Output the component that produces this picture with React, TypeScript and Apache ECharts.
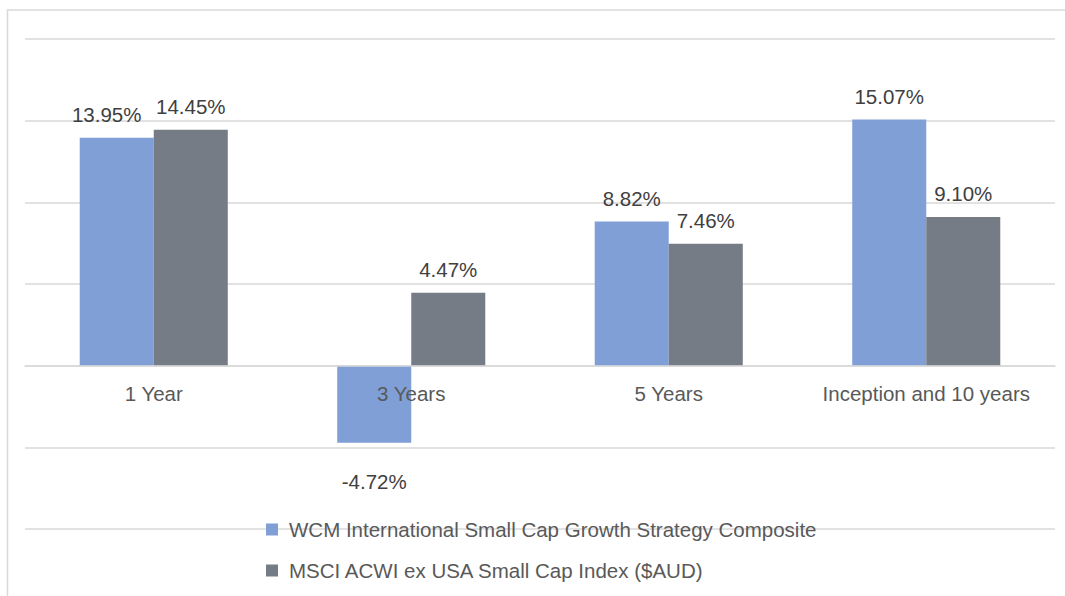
import React, { useEffect, useRef } from "react";
import * as echarts from "echarts";

const categories = ["1 Year", "3 Years", "5 Years", "Inception and 10 years"];
const wcmValues = [13.95, -4.72, 8.82, 15.07];
const msciValues = [14.45, 4.47, 7.46, 9.1];
const seriesNames = [
  "WCM International Small Cap Growth Strategy Composite",
  "MSCI ACWI ex USA Small Cap Index ($AUD)",
];
const yTicks = [-10, -5, 0, 5, 10, 15, 20];

const FONT = "'Liberation Sans', Arial, sans-serif";
const FS = 20.5;
const BLUE = "#809fd7";
const GREY = "#767c86";

function makeData(values: number[], firstOffset: number) {
  return values.map((v, i) => {
    const item: any = { value: v };
    const label: any = {};
    if (v < 0) {
      label.position = "bottom";
      label.distance = 28;
    }
    if (i === 0 && firstOffset) label.offset = [firstOffset, 0];
    if (Object.keys(label).length) item.label = label;
    return item;
  });
}

export default function App() {
  const ref = useRef<HTMLDivElement>(null);
  useEffect(() => {
    if (!ref.current) return;
    const chart = echarts.init(ref.current, undefined, { renderer: "svg" });
    const labelStyle = {
      show: true,
      position: "top",
      distance: 13,
      color: "#404040",
      fontSize: FS,
      fontFamily: FONT,
      formatter: (p: any) => Number(p.value).toFixed(2) + "%",
    };
    chart.setOption({
      animation: false,
      backgroundColor: "#ffffff",
      graphic: [
        {
          type: "rect",
          z: -10,
          shape: { x: 7.5, y: 10, width: 1300, height: 900 },
          style: { fill: "none", stroke: "#d9d9d9", lineWidth: 1.5 },
        },
      ],
      grid: { left: 25, right: 10, top: 39, bottom: 67, containLabel: false },
      legend: {
        orient: "vertical",
        left: 261,
        top: 514,
        itemWidth: 12,
        itemHeight: 12,
        itemGap: 20,
        icon: "rect",
        textStyle: {
          color: "#595959",
          fontSize: FS,
          fontFamily: FONT,
          padding: [0, 0, 0, 6],
        },
        data: seriesNames,
      },
      xAxis: {
        type: "category",
        data: categories,
        z: 5,
        axisLine: { onZero: true, lineStyle: { color: "#d9d9d9", width: 1.5 } },
        axisTick: { show: false },
        axisLabel: {
          color: "#595959",
          fontSize: FS,
          fontFamily: FONT,
          interval: 0,
          margin: -146,
        },
      },
      yAxis: {
        type: "value",
        min: yTicks[0],
        max: yTicks[yTicks.length - 1],
        interval: 5,
        axisLabel: { show: false },
        axisLine: { show: false },
        axisTick: { show: false },
        splitLine: { lineStyle: { color: "#d9d9d9", width: 1.5 } },
      },
      series: [
        {
          name: seriesNames[0],
          type: "bar",
          data: makeData(wcmValues, -10),
          itemStyle: { color: BLUE },
          barGap: "0%",
          barCategoryGap: "42.5%",
          label: labelStyle,
        },
        {
          name: seriesNames[1],
          type: "bar",
          data: makeData(msciValues, 0),
          itemStyle: { color: GREY },
          barGap: "0%",
          barCategoryGap: "42.5%",
          label: labelStyle,
        },
      ],
    });
    return () => chart.dispose();
  }, []);
  return (
    <div
      ref={ref}
      style={{ position: "fixed", left: 0, top: 0, width: 1065, height: 596 }}
    />
  );
}
